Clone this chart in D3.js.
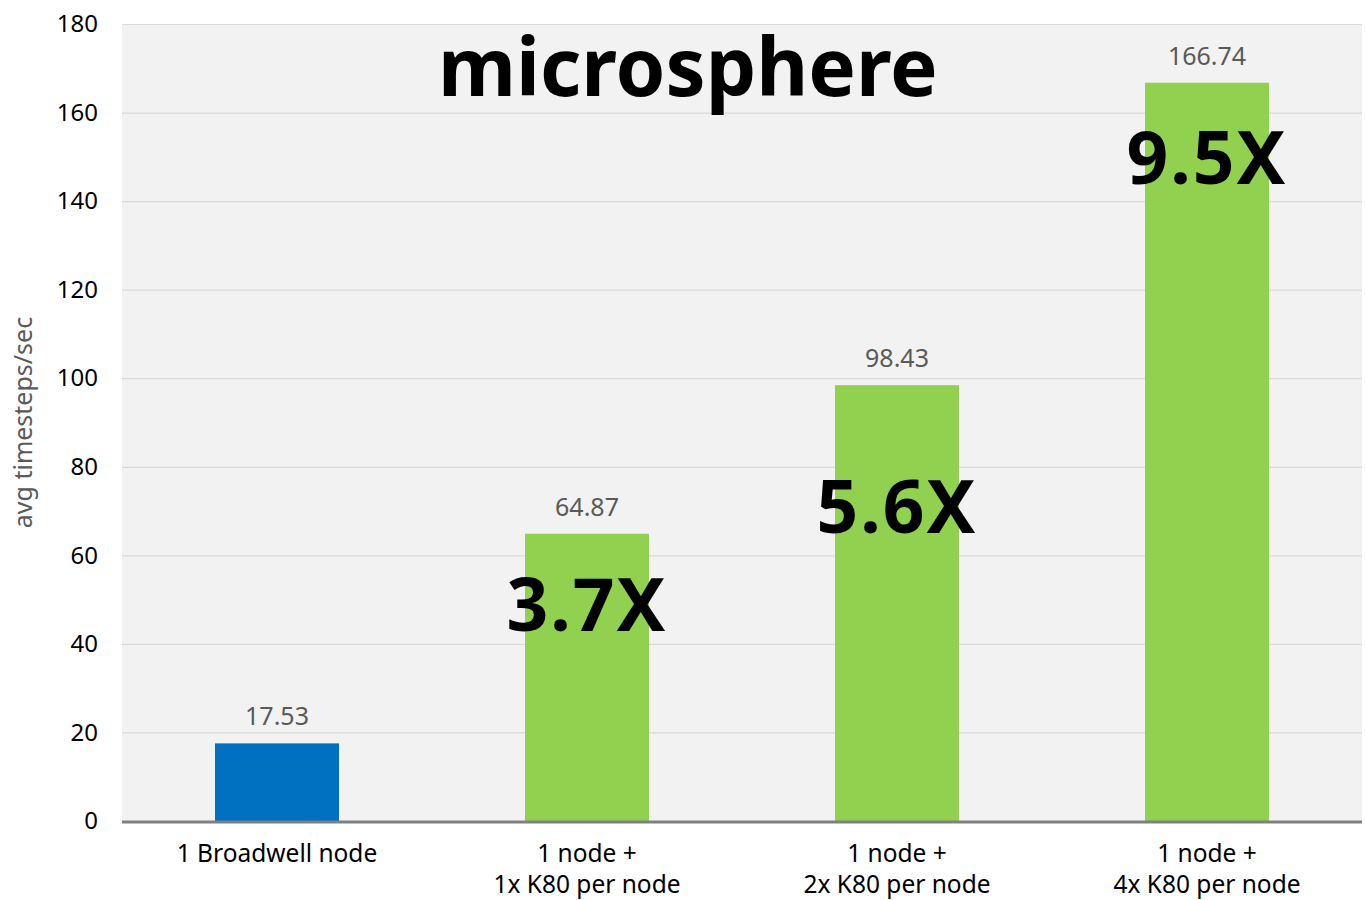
<!DOCTYPE html>
<html><head><meta charset="utf-8">
<script src="https://cdn.jsdelivr.net/npm/d3@7"></script>
<style>body{margin:0;background:#fff;}svg{display:block;font-family:"Noto Sans","Open Sans",sans-serif;}</style>
</head><body><svg id="c" width="1365" height="900"></svg>
<script>
const categories = ["1 Broadwell node", "1 node +\n1x K80 per node", "1 node +\n2x K80 per node", "1 node +\n4x K80 per node"];
const values = [17.53, 64.87, 98.43, 166.74];
const valueLabels = ["17.53", "64.87", "98.43", "166.74"];
const speedups = ["", "3.7X", "5.6X", "9.5X"];
const speedupAt = [0, 45, 67, 146];
const barColors = ["#0070c0", "#92d050", "#92d050", "#92d050"];
const yTicks = [0, 20, 40, 60, 80, 100, 120, 140, 160, 180];
const title = "microsphere";
const yTitle = "avg timesteps/sec";

const svg = d3.select("#c");
const m = {l:122, r:1362, t:24, b:821};
const x = d3.scaleBand().domain(categories).range([m.l, m.r]).paddingInner(0.6).paddingOuter(0.3);
const y = d3.scaleLinear().domain([0,180]).range([m.b, m.t]);

svg.append("rect").attr("x", m.l).attr("y", m.t).attr("width", m.r-m.l).attr("height", m.b-m.t).attr("fill", "#f2f2f2");

const ya = svg.append("g").attr("transform", `translate(${m.l},0)`)
  .call(d3.axisLeft(y).tickValues(yTicks).tickSize(-(m.r-m.l)).tickPadding(24).tickFormat(d3.format("d")));
ya.select(".domain").remove();
ya.selectAll(".tick line").attr("stroke", "#d9d9d9").attr("stroke-width", 1.2);
ya.selectAll(".tick text").attr("font-size", 24).attr("fill", "#000").attr("font-family", "Noto Sans");

svg.append("text").attr("transform", `translate(32,${(m.t+m.b)/2}) rotate(-90)`).attr("text-anchor", "middle")
  .attr("font-size", 25).attr("fill", "#595959").text(yTitle);

svg.selectAll("rect.bar").data(values).join("rect").attr("class", "bar")
  .attr("x", (d,i) => x(categories[i])).attr("width", x.bandwidth())
  .attr("y", d => y(d)).attr("height", d => y(0) - y(d)).attr("fill", (d,i) => barColors[i]);

svg.append("line").attr("x1", m.l).attr("x2", m.r).attr("y1", y(0)+1).attr("y2", y(0)+1).attr("stroke", "#808080").attr("stroke-width", 3);

svg.selectAll("text.val").data(values).join("text").attr("class", "val")
  .attr("x", (d,i) => x(categories[i]) + x.bandwidth()/2).attr("y", d => y(d) - 18)
  .attr("text-anchor", "middle").attr("font-size", 25).attr("fill", "#595959").text((d,i) => valueLabels[i]);

svg.selectAll("text.sp").data(speedupAt).join("text").attr("class", "sp")
  .attr("x", (d,i) => x(categories[i]) + x.bandwidth()/2).attr("y", d => y(d) + 9)
  .attr("text-anchor", "middle").attr("font-size", 73).attr("font-weight", "bold").attr("letter-spacing", 2)
  .attr("fill", "#000").text((d,i) => speedups[i]);

categories.forEach(d => {
  d.split("\n").forEach((line, i) => {
    svg.append("text").attr("class", "xl")
      .attr("x", x(d) + x.bandwidth()/2).attr("y", 862 + i * 31)
      .attr("text-anchor", "middle").attr("font-size", 24.5).attr("fill", "#000").text(line);
  });
});

svg.append("text").attr("x", 688).attr("y", 96).attr("text-anchor", "middle").attr("font-size", 80)
  .attr("font-weight", "bold").attr("fill", "#000").text(title);
</script></body></html>
